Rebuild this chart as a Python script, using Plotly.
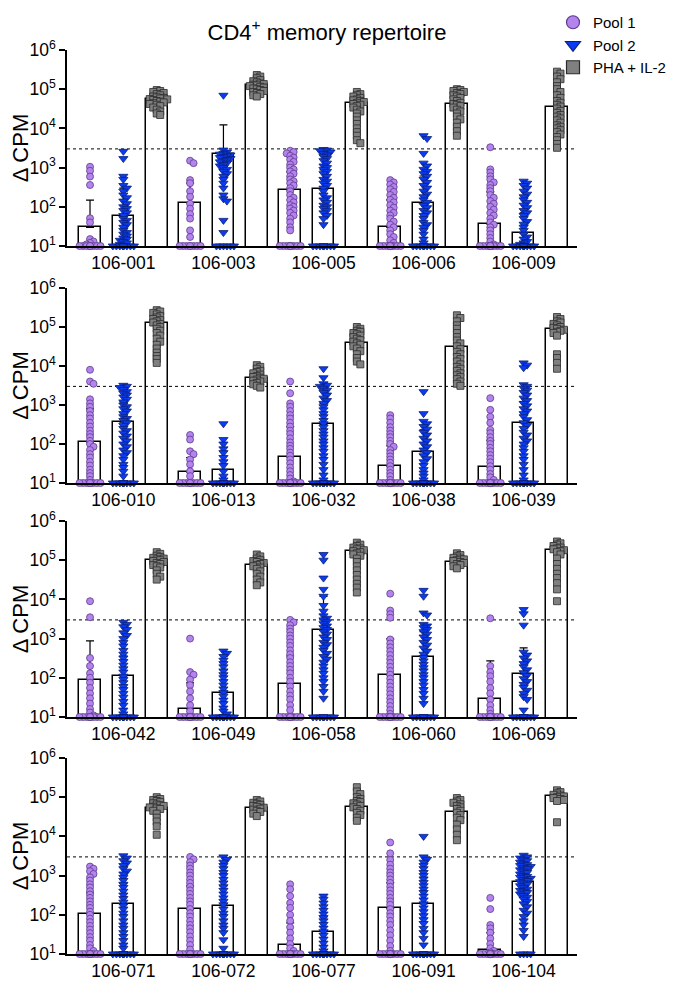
import math
import plotly.graph_objects as go

# ---------------- Data ----------------
THRESHOLD = 3000
POOL_NAMES = ["Pool 1", "Pool 2", "PHA + IL-2"]
Y_TICK_VALUES = [1e1, 1e2, 1e3, 1e4, 1e5, 1e6]
Y_TICK_TEXT = ["10<sup>1</sup>", "10<sup>2</sup>", "10<sup>3</sup>",
               "10<sup>4</sup>", "10<sup>5</sup>", "10<sup>6</sup>"]

# ---- Panel 1 ----
P1_DONORS = ["106-001", "106-003", "106-005", "106-006", "106-009"]
P1_POOL1 = [
    [1050, 830, 590, 360, 51, 40, 15, 13, 12, 11] + [10] * 10,
    [1500, 1300, 480, 400, 250, 180, 120, 90, 65, 50, 25, 17] + [10] * 8,
    [2700, 2500, 2300, 2000, 1800, 1600, 1400, 1200, 1000, 900, 800, 700, 600, 500, 450, 400, 350, 300,
     250, 200, 170, 150, 130, 110, 100, 90, 80, 70, 60, 50, 40, 30, 25] + [10] * 10,
    [480, 420, 370, 320, 280, 240, 200, 170, 150, 130, 110, 95, 80, 70, 60, 50, 42, 35, 30, 25, 20, 17,
     14, 12] + [10] * 12,
    [3300, 900, 750, 600, 500, 420, 360, 300, 250, 200, 170, 140, 120, 100, 85, 70, 60, 50, 40, 35, 30,
     25, 20, 16, 13, 11] + [10] * 12,
]
P1_POOL2 = [
    [2600, 1700, 600, 500, 350, 300, 250, 200, 170, 140, 120, 100, 90, 80, 70, 60, 50, 45, 40, 35, 30,
     25, 22, 20, 18, 16, 15, 14, 13, 12, 11] + [10] * 10,
    [70000, 2800, 2500, 2300, 2200, 2100, 2000, 1900, 1800, 1700, 1600, 1500, 1400, 1300, 1200, 1100,
     1000, 900, 800, 700, 600, 500, 400, 300, 200, 160, 140, 45, 22] + [10] * 6,
    [2900, 2800, 2700, 2500, 2300, 2100, 1900, 1700, 1500, 1300, 1100, 1000, 900, 800, 700, 600, 500,
     450, 400, 350, 300, 250, 200, 170, 150, 130, 110, 100, 90, 80, 70, 60, 50, 35] + [10] * 10,
    [6500, 5500, 2300, 1300, 1100, 900, 800, 700, 600, 500, 420, 350, 300, 250, 210, 180, 150, 130, 110,
     95, 80, 70, 60, 50, 40, 35, 30, 25, 20, 15, 12] + [10] * 10,
    [450, 400, 350, 300, 250, 210, 180, 150, 130, 110, 95, 80, 70, 60, 50, 42, 36, 30, 25, 20, 17, 15,
     13, 12, 11] + [10] * 12,
]
P1_PHA = [
    [95000, 90000, 85000, 80000, 75000, 70000, 65000, 62000, 60000, 58000, 56000, 55000, 53000, 50000,
     48000, 46000, 44000, 42000, 40000, 37000, 34000, 30000, 27000, 24000, 22000],
    [230000, 210000, 190000, 170000, 160000, 150000, 140000, 135000, 130000, 125000, 120000, 115000,
     110000, 105000, 100000, 95000, 90000, 85000, 80000, 75000, 70000, 65000],
    [85000, 75000, 70000, 65000, 60000, 55000, 52000, 50000, 47000, 45000, 42000, 40000, 37000, 34000,
     30000, 27000, 24000, 20000, 16000, 13000, 10000, 8000, 6500, 5000, 4200],
    [100000, 95000, 90000, 85000, 80000, 75000, 70000, 65000, 60000, 55000, 50000, 45000, 42000, 40000,
     37000, 34000, 30000, 27000, 24000, 20000, 17000, 14000, 11000, 8500, 6500],
    [280000, 250000, 210000, 180000, 150000, 120000, 100000, 85000, 70000, 60000, 50000, 45000, 40000,
     36000, 32000, 28000, 25000, 22000, 20000, 18000, 16000, 14000, 12000, 11000, 10000, 9000, 8000,
     7000, 6000, 5000, 4000, 3200],
]
P1_MEAN = [[30, 58, 56000], [125, 2200, 126000], [270, 290, 45000], [30, 125, 42000], [36, 21, 35000]]
P1_SD_TOP = [[148, 300, 75000], [400, 12300, 170000], [780, 870, 70000], [150, 610, 65000],
             [240, 70, 90000]]

# ---- Panel 2 ----
P2_DONORS = ["106-010", "106-013", "106-032", "106-038", "106-039"]
P2_POOL1 = [
    [8000, 4000, 3500, 1400, 1100, 900, 700, 550, 450, 350, 280, 220, 180, 150, 120, 100, 85, 70, 55, 45,
     35, 28, 22, 18, 15, 12] + [10] * 12,
    [170, 130, 65, 55, 40, 30, 20, 15] + [10] * 10,
    [4000, 2000, 1100, 900, 700, 550, 450, 350, 280, 220, 180, 140, 110, 90, 75, 60, 50, 40, 32, 25, 20,
     16, 13, 11] + [10] * 12,
    [550, 450, 350, 270, 220, 180, 150, 120, 100, 85, 70, 58, 48, 40, 33, 27, 22, 18, 15, 12] + [10] * 12,
    [1500, 750, 500, 350, 230, 190, 150, 120, 100, 80, 65, 52, 42, 34, 27, 22, 17, 14, 12] + [10] * 12,
]
P2_POOL2 = [
    [3200, 3000, 2800, 2500, 2200, 2000, 1800, 1600, 1400, 1200, 1000, 900, 800, 700, 600, 500, 450, 400,
     350, 300, 250, 220, 190, 160, 140, 120, 100, 85, 70, 60, 50, 40, 30, 25, 20, 15] + [10] * 12,
    [330, 130, 100, 75, 60, 45, 35, 28, 20, 15, 12] + [10] * 12,
    [8500, 5000, 3500, 3200, 3000, 2700, 2400, 2100, 1800, 1500, 1300, 1100, 900, 750, 600, 500, 400,
     330, 270, 220, 180, 150, 120, 100, 80, 65, 50, 40, 30, 22, 16, 12] + [10] * 12,
    [2200, 600, 380, 330, 280, 240, 200, 170, 140, 120, 100, 85, 70, 60, 50, 42, 35, 28, 22, 18, 15,
     12] + [10] * 12,
    [12000, 10500, 9000, 3300, 3000, 2700, 2400, 2100, 1800, 1500, 1300, 1100, 950, 800, 700, 600, 500,
     420, 350, 300, 250, 200, 170, 140, 120, 100, 80, 65, 50, 40, 30, 22, 16, 12] + [10] * 12,
]
P2_PHA = [
    [270000, 250000, 230000, 210000, 190000, 175000, 160000, 150000, 140000, 130000, 120000, 110000,
     100000, 90000, 80000, 70000, 60000, 50000, 42000, 35000, 28000, 22000, 18000, 15000, 12000],
    [10500, 9500, 8500, 7500, 7000, 6500, 6000, 5500, 5200, 5000, 4700, 4500, 4200, 4000, 3700, 3400,
     3100, 2800],
    [100000, 90000, 80000, 75000, 70000, 65000, 60000, 55000, 50000, 46000, 42000, 38000, 35000, 32000,
     28000, 24000, 20000, 16000, 13000, 11000],
    [200000, 170000, 140000, 110000, 90000, 70000, 55000, 45000, 38000, 32000, 27000, 23000, 20000,
     17000, 15000, 13000, 11000, 9500, 8500, 7500, 6500, 5800, 5200, 4600, 4000, 3500, 3100],
    [180000, 160000, 140000, 130000, 120000, 110000, 100000, 95000, 90000, 85000, 80000, 75000, 70000,
     60000, 20000, 16000, 12000, 8500],
]
P2_MEAN = [[112, 365, 130000], [19, 22, 4800], [47, 320, 40000], [27, 63, 30000], [26, 350, 89000]]
P2_SD_TOP = [[800, 1200, 200000], [45, 65, 6500], [280, 1100, 60000], [90, 230, 75000],
             [125, 1200, 130000]]

# ---- Panel 3 ----
P3_DONORS = ["106-042", "106-049", "106-058", "106-060", "106-069"]
P3_POOL1 = [
    [9000, 3500, 320, 200, 130, 100, 75, 55, 40, 30, 22, 16, 13, 11] + [10] * 12,
    [1000, 140, 120, 90, 65, 45, 30, 20, 14] + [10] * 12,
    [3000, 2600, 2200, 1800, 1500, 1200, 1000, 800, 650, 500, 400, 320, 250, 200, 160, 130, 100, 80, 60,
     45, 35, 28, 20, 15] + [10] * 14,
    [14000, 5200, 4200, 3400, 950, 750, 600, 480, 380, 300, 240, 190, 150, 120, 95, 75, 60, 48, 38, 30,
     24, 19, 15, 12] + [10] * 12,
    [3300, 200, 140, 110, 80, 55, 40, 28, 20, 15, 12] + [10] * 12,
]
P3_POOL2 = [
    [2600, 2300, 2000, 1700, 1400, 1200, 1000, 800, 650, 500, 400, 320, 260, 210, 170, 140, 110, 90, 75,
     60, 50, 40, 32, 25, 20, 15, 12] + [10] * 12,
    [480, 420, 350, 280, 230, 190, 150, 120, 100, 80, 65, 52, 42, 34, 27, 22, 17, 14, 12] + [10] * 12,
    [140000, 100000, 35000, 18000, 12000, 7000, 5000, 3800, 3300, 3000, 2700, 2400, 2100, 1900, 1700,
     1500, 1300, 1100, 950, 800, 700, 600, 500, 420, 350, 300, 250, 200, 160, 130, 100, 80, 60, 45,
     30] + [10] * 10,
    [17000, 12000, 4500, 4000, 2300, 2100, 1900, 1700, 1500, 1300, 1100, 950, 800, 680, 570, 480, 400,
     330, 270, 220, 180, 150, 120, 100, 80, 65, 50, 40, 30, 22] + [10] * 12,
    [5500, 4300, 2200, 450, 380, 320, 270, 230, 190, 160, 135, 115, 95, 80, 68, 57, 48, 40, 33, 28,
     15] + [10] * 12,
]
P3_PHA = [
    [160000, 145000, 130000, 120000, 115000, 110000, 105000, 100000, 95000, 90000, 85000, 80000, 75000,
     70000, 65000, 55000, 45000, 38000, 32000],
    [140000, 125000, 110000, 100000, 95000, 90000, 85000, 80000, 75000, 70000, 65000, 60000, 52000,
     45000, 38000, 32000, 27000, 23000],
    [280000, 250000, 230000, 210000, 200000, 190000, 180000, 170000, 160000, 150000, 140000, 130000,
     110000, 90000, 70000, 55000, 42000, 32000, 25000, 20000, 15000],
    [150000, 135000, 125000, 115000, 110000, 105000, 100000, 95000, 90000, 85000, 80000, 75000, 70000,
     62000],
    [300000, 270000, 250000, 230000, 210000, 200000, 190000, 180000, 170000, 160000, 140000, 110000,
     80000, 60000, 45000, 35000, 26000, 18000, 9000],
]
P3_MEAN = [[90, 110, 100000], [16, 41, 75000], [71, 1650, 170000], [118, 340, 90000], [29, 125, 180000]]
P3_SD_TOP = [[870, 360, 130000], [74, 160, 100000], [360, 12000, 250000], [980, 1500, 110000],
             [270, 580, 250000]]

# ---- Panel 4 ----
P4_DONORS = ["106-071", "106-072", "106-077", "106-091", "106-104"]
P4_POOL1 = [
    [1700, 1500, 1300, 1100, 900, 750, 600, 500, 400, 330, 270, 220, 180, 150, 120, 100, 80, 65, 52, 42,
     34, 27, 22, 17, 14, 12] + [10] * 12,
    [3000, 2600, 2200, 1800, 1500, 1200, 1000, 800, 650, 520, 420, 340, 270, 220, 180, 140, 110, 90, 70,
     55, 45, 36, 28, 22, 17, 13] + [10] * 12,
    [600, 450, 300, 200, 150, 100, 70, 48, 35, 25, 18, 14, 12] + [10] * 14,
    [7000, 3700, 2500, 1900, 1500, 1200, 1000, 800, 650, 520, 420, 340, 270, 220, 180, 140, 110, 90, 70,
     55, 40, 30, 22, 16, 12] + [10] * 14,
    [270, 140, 55, 45, 35, 25, 18, 14, 12, 11] + [10] * 16,
]
P4_POOL2 = [
    [3200, 2800, 2400, 2100, 1800, 1500, 1300, 1100, 900, 750, 600, 500, 400, 320, 260, 210, 170, 140,
     110, 90, 70, 55, 45, 35, 28, 22, 17, 14] + [10] * 12,
    [3000, 2600, 2200, 1800, 1500, 1200, 1000, 800, 650, 520, 420, 340, 270, 220, 180, 140, 110, 90, 70,
     55, 45, 35, 23, 14] + [10] * 12,
    [300, 250, 200, 160, 130, 105, 85, 70, 57, 46, 37, 30, 24, 19, 15, 12] + [10] * 12,
    [10000, 3000, 2600, 2200, 1800, 1500, 1200, 1000, 820, 670, 550, 450, 370, 300, 240, 190, 150, 120,
     95, 75, 60, 45, 35, 25, 17] + [10] * 12,
    [3300, 3000, 2800, 2600, 2400, 2200, 2000, 1900, 1800, 1700, 1600, 1500, 1400, 1300, 1200, 1100,
     1000, 950, 900, 850, 800, 750, 700, 650, 600, 550, 500, 450, 420, 400, 370, 340, 310, 280, 250, 220,
     190, 160, 130, 110, 90, 70, 55, 40, 28] + [10] * 4,
]
P4_PHA = [
    [100000, 90000, 85000, 80000, 75000, 70000, 65000, 62000, 60000, 57000, 55000, 52000, 50000, 45000,
     38000, 30000, 24000, 18000, 11000],
    [85000, 78000, 72000, 68000, 64000, 60000, 57000, 54000, 51000, 48000, 45000, 42000, 38000, 33000],
    [180000, 140000, 120000, 100000, 90000, 80000, 75000, 70000, 65000, 60000, 55000, 50000, 45000,
     40000, 35000, 30000, 25000],
    [95000, 85000, 78000, 72000, 66000, 60000, 55000, 50000, 45000, 40000, 35000, 30000, 26000, 20000,
     15000, 11000, 8000],
    [150000, 135000, 125000, 115000, 110000, 105000, 100000, 95000, 90000, 85000, 80000, 23000],
]
P4_MEAN = [[105, 190, 53000], [140, 170, 53000], [17, 37, 56000], [145, 190, 43000], [13, 680, 110000]]
P4_SD_TOP = [[360, 630, 70000], [550, 550, 65000], [62, 88, 85000], [660, 900, 60000],
             [35, 2900, 135000]]

PANELS = [
    (P1_DONORS, P1_POOL1, P1_POOL2, P1_PHA, P1_MEAN, P1_SD_TOP),
    (P2_DONORS, P2_POOL1, P2_POOL2, P2_PHA, P2_MEAN, P2_SD_TOP),
    (P3_DONORS, P3_POOL1, P3_POOL2, P3_PHA, P3_MEAN, P3_SD_TOP),
    (P4_DONORS, P4_POOL1, P4_POOL2, P4_PHA, P4_MEAN, P4_SD_TOP),
]

# ---------------- Styling / layout constants ----------------
# The page body adds an 8px offset, so figure coordinates = page coordinates - 8.
# The figure is sized so that it (plus the body margins) fits the 679x988 window exactly.
OFF = 8
W, H = 679 - 2 * OFF, 988 - 2 * OFF
PLOT_BOTTOM = 954 - OFF
M_L, M_R = 67 - OFF, W - (577 - OFF)
M_T, M_B = 50 - OFF, H - PLOT_BOTTOM
PLOT_W = W - M_L - M_R
PLOT_H = H - M_T - M_B
X_RANGE = [-0.69, 14.6]
Y_RANGE = [1, 6]
PANEL_PX = [(50, 246), (288, 483), (521, 717), (758, 954)]   # top/bottom page rows
FONT = "Liberation Sans, Arial, Helvetica, sans-serif"

FILLS = ["#B583EE", "#0B3CF2", "#808080"]
EDGES = ["#5B3C8C", "#0A1F78", "#2A2A2A"]
SYMBOLS = ["circle", "triangle-down", "square"]
SIZES = [7, 8, 7]

PX_PER_X = PLOT_W / (X_RANGE[1] - X_RANGE[0])
PX_PER_DECADE = 196 / (Y_RANGE[1] - Y_RANGE[0])


def swarm_offsets(values, min_dist=3.0, step=3.5, max_off=10.5):
    """Deterministic beeswarm offsets (x data units) to spread overlapping markers."""
    ys = [math.log10(v) * PX_PER_DECADE for v in values]
    order = sorted(range(len(values)), key=lambda i: -ys[i])
    cands = [0.0]
    k = 1
    while k * step <= max_off + 1e-9:
        cands += [k * step, -k * step]
        k += 1
    placed, offs = [], [0.0] * len(values)
    for i in order:
        best, best_d = 0.0, -1.0
        for c in cands:
            md = min((math.hypot(c - px, ys[i] - py) for px, py in placed), default=1e9)
            if md >= min_dist:
                best = c
                break
            if md > best_d:
                best_d, best = md, c
        offs[i] = best
        placed.append((best, ys[i]))
    return [o / PX_PER_X for o in offs]


fig = go.Figure()
layout = dict(
    width=W, height=H,
    margin=dict(l=M_L, r=M_R, t=M_T, b=M_B, autoexpand=False),
    plot_bgcolor="white", paper_bgcolor="white",
    font=dict(family=FONT, color="black"),
    showlegend=True,
    bargap=0,
)

for p, (donors, pool1, pool2, pha, means, sd_top) in enumerate(PANELS):
    n = p + 1
    xa = "x" if n == 1 else f"x{n}"
    ya = "y" if n == 1 else f"y{n}"
    top_px, bot_px = PANEL_PX[p]
    dom = [(954 - bot_px) / PLOT_H, (954 - top_px) / PLOT_H]

    positions, bar_y, err_plus = [], [], []
    for d in range(len(donors)):
        for j in range(3):
            positions.append(3 * d + j)
            bar_y.append(means[d][j])
            err_plus.append(max(sd_top[d][j] - means[d][j], 0))

    fig.add_trace(go.Bar(
        x=positions, y=bar_y, width=0.65, xaxis=xa, yaxis=ya,
        marker=dict(color="white", line=dict(color="black", width=1.5)),
        error_y=dict(type="data", symmetric=False, array=err_plus,
                     arrayminus=[0] * len(err_plus), color="black", thickness=1.2, width=4),
        showlegend=False, hoverinfo="skip",
    ))

    fig.add_trace(go.Scatter(
        x=X_RANGE, y=[THRESHOLD, THRESHOLD], mode="lines", xaxis=xa, yaxis=ya,
        line=dict(color="black", width=1, dash="dot"), showlegend=False, hoverinfo="skip",
    ))

    for j, series in enumerate([pool1, pool2, pha]):
        xs, ys = [], []
        for d, vals in enumerate(series):
            offs = swarm_offsets(vals)
            xs += [3 * d + j + o for o in offs]
            ys += vals
        fig.add_trace(go.Scatter(
            x=xs, y=ys, mode="markers", xaxis=xa, yaxis=ya, cliponaxis=False,
            marker=dict(symbol=SYMBOLS[j], size=SIZES[j], color=FILLS[j],
                        line=dict(color=EDGES[j], width=0.8)),
            showlegend=False, name=POOL_NAMES[j],
        ))

    layout["xaxis" if n == 1 else f"xaxis{n}"] = dict(
        domain=[0, 1], anchor=ya, range=X_RANGE, showgrid=False, zeroline=False,
        showline=True, linecolor="black", linewidth=1.5, ticks="",
        tickmode="array", tickvals=[1, 4, 7, 10, 13], ticktext=donors,
        tickfont=dict(size=17.5, family=FONT, color="black"), automargin=False,
    )
    layout["yaxis" if n == 1 else f"yaxis{n}"] = dict(
        domain=dom, anchor=xa, type="log", range=Y_RANGE, showgrid=False, zeroline=False,
        showline=True, linecolor="black", linewidth=1.5, ticks="outside", ticklen=6,
        tickwidth=1.5, tickcolor="black", tickmode="array", tickvals=Y_TICK_VALUES,
        ticktext=Y_TICK_TEXT, tickfont=dict(size=17.5, family=FONT, color="black"),
        title=dict(text="Δ CPM", font=dict(size=22, family=FONT, color="black"), standoff=4),
        automargin=False,
    )

# Legend-only entries (bigger markers, as in the reference legend)
for j in range(3):
    fig.add_trace(go.Scatter(
        x=[None], y=[None], mode="markers", name=POOL_NAMES[j],
        marker=dict(symbol=SYMBOLS[j], size=13, color=FILLS[j], line=dict(color=EDGES[j], width=1.2)),
        showlegend=True,
    ))

LEGEND_LEFT_PAGE = 553
layout["legend"] = dict(
    xref="paper", yref="paper",
    x=(LEGEND_LEFT_PAGE - OFF - M_L) / PLOT_W, y=(PLOT_BOTTOM + 2) / PLOT_H,
    xanchor="left", yanchor="top",
    font=dict(size=15, family=FONT, color="black"), bgcolor="rgba(0,0,0,0)",
    itemsizing="trace", tracegroupgap=0,
)
layout["title"] = dict(
    text="CD4<sup>+</sup> memory repertoire", x=(327 - OFF) / W, xanchor="center",
    y=1 - (32 - OFF) / H, yanchor="middle", font=dict(size=22, family=FONT, color="black"),
)
fig.update_layout(**layout)
fig.write_html("out.html")
